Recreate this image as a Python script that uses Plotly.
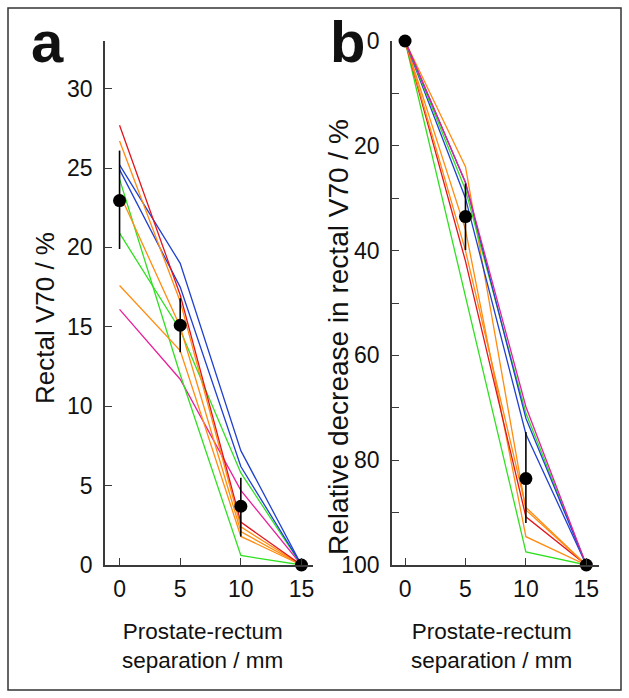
import plotly.graph_objects as go

# ---------------- data ----------------
sep = [0, 5, 10, 15]  # prostate-rectum separation / mm

# panel a: rectal V70 / %
a_red = [27.7, 17.0, 2.7, 0]
a_orange1 = [26.7, 16.6, 2.4, 0]
a_orange2 = [23.4, 15.0, 2.1, 0]
a_orange3 = [17.6, 13.5, 1.8, 0]
a_blue1 = [25.2, 19.0, 7.2, 0]
a_blue2 = [24.9, 17.5, 6.2, 0]
a_green1 = [24.3, 12.0, 0.6, 0]
a_green2 = [20.9, 14.8, 5.8, 0]
a_magenta = [16.1, 11.7, 4.7, 0]
a_mean = [22.95, 15.1, 3.7, 0]
a_err_plus = [3.15, 1.7, 1.8, 0]
a_err_minus = [3.05, 1.7, 1.9, 0]

# panel b: relative decrease in rectal V70 / %
b_red = [0, 42, 90.8, 100]
b_orange1 = [0, 40, 89.0, 100]
b_orange2 = [0, 36, 94.6, 100]
b_orange3 = [0, 24, 89.5, 100]
b_blue1 = [0, 27, 72.0, 100]
b_blue2 = [0, 30, 75.0, 100]
b_green1 = [0, 48.5, 97.5, 100]
b_green2 = [0, 28.4, 71.0, 100]
b_magenta = [0, 27, 69.8, 100]
b_mean = [0, 33.5, 83.5, 100]
b_err_plus = [0, 6.4, 8.5, 0]
b_err_minus = [0, 6.3, 8.9, 0]

a_ticks = [0, 5, 10, 15, 20, 25, 30]
b_ticks = [0, 10, 20, 30, 40, 50, 60, 70, 80, 90, 100]
b_ticktext = ["0", "", "20", "", "40", "", "60", "", "80", "", "100"]
x_ticks = [0, 5, 10, 15]

RED = "#e3141c"
ORANGE = "#ff8c10"
BLUE = "#2040d0"
GREEN = "#30e020"
MAGENTA = "#e8209c"

FONT = "Liberation Sans, Arial, sans-serif"
W, H = 629, 698

fig = go.Figure()

def add_lines(series, xa, ya):
    for ys, col in series:
        fig.add_trace(go.Scatter(x=sep, y=ys, mode="lines", xaxis=xa, yaxis=ya,
                                 line=dict(color=col, width=1.3), showlegend=False,
                                 hoverinfo="skip"))

add_lines([(a_magenta, MAGENTA), (a_green2, GREEN), (a_green1, GREEN),
           (a_orange3, ORANGE), (a_orange2, ORANGE), (a_blue2, BLUE), (a_blue1, BLUE),
           (a_orange1, ORANGE), (a_red, RED)], "x", "y")
add_lines([(b_green1, GREEN), (b_orange2, ORANGE), (b_red, RED), (b_orange1, ORANGE),
           (b_orange3, ORANGE), (b_blue2, BLUE), (b_green2, GREEN), (b_blue1, BLUE),
           (b_magenta, MAGENTA)], "x2", "y2")

for xa, ya, m, ep, em in [("x", "y", a_mean, a_err_plus, a_err_minus),
                          ("x2", "y2", b_mean, b_err_plus, b_err_minus)]:
    fig.add_trace(go.Scatter(x=sep, y=m, mode="markers", xaxis=xa, yaxis=ya,
                             marker=dict(color="black", size=13),
                             error_y=dict(type="data", array=ep, arrayminus=em,
                                          color="black", thickness=1.6, width=0),
                             cliponaxis=False, showlegend=False))

def px_x(p):
    return p / W

def px_y(p):
    return 1 - p / H

axis_common = dict(showgrid=False, zeroline=False, showline=True, linecolor="#3a3a3a",
                   linewidth=1.6, ticks="inside", ticklen=7, tickwidth=1.4,
                   tickcolor="#3a3a3a", automargin=False,
                   tickfont=dict(family=FONT, size=23, color="#111"))

fig.update_layout(
    width=W, height=H, margin=dict(l=0, r=0, t=0, b=0, autoexpand=False),
    paper_bgcolor="white", plot_bgcolor="white", showlegend=False,
    xaxis=dict(domain=[px_x(105), px_x(313)], range=[-1.2, 15.95], tickvals=x_ticks,
               anchor="y", ticklabelstandoff=3, **axis_common),
    yaxis=dict(domain=[px_y(565), px_y(41)], range=[0, 33], tickvals=a_ticks,
               anchor="x", ticklabelstandoff=6, **axis_common),
    xaxis2=dict(domain=[px_x(392), px_x(599)], range=[-1.08, 16.05], tickvals=x_ticks,
                anchor="y2", ticklabelstandoff=3, **axis_common),
    yaxis2=dict(domain=[px_y(565), px_y(41)], range=[100, 0], tickvals=b_ticks,
                ticktext=b_ticktext, anchor="x2", ticklabelstandoff=6, **axis_common),
)

ann = []
def note(text, x, y, size, bold=False, angle=0):
    ann.append(dict(text=f"<b>{text}</b>" if bold else text, x=px_x(x), y=px_y(y),
                    xref="paper", yref="paper", showarrow=False, textangle=angle,
                    font=dict(family=FONT, size=size, color="#111"),
                    xanchor="center", yanchor="middle"))

note("a", 47, 42, 58, bold=True)
note("b", 348, 42, 58, bold=True)
note("Rectal V70 / %", 45, 318, 26, angle=-90)
note("Relative decrease in rectal V70 / %", 338, 337, 28, angle=-90)
note("Prostate-rectum<br>separation / mm", 202, 646, 22.5)
note("Prostate-rectum<br>separation / mm", 491, 646, 22.5)
fig.update_layout(annotations=ann)

fig.add_shape(type="rect", xref="paper", yref="paper",
              x0=px_x(8), x1=px_x(621), y0=px_y(690), y1=px_y(8),
              line=dict(color="#333", width=1.5))

fig.write_html("out.html", config={"displayModeBar": False},
               post_script="document.body.style.margin='0px';"
                           "document.body.style.overflow='hidden';")
